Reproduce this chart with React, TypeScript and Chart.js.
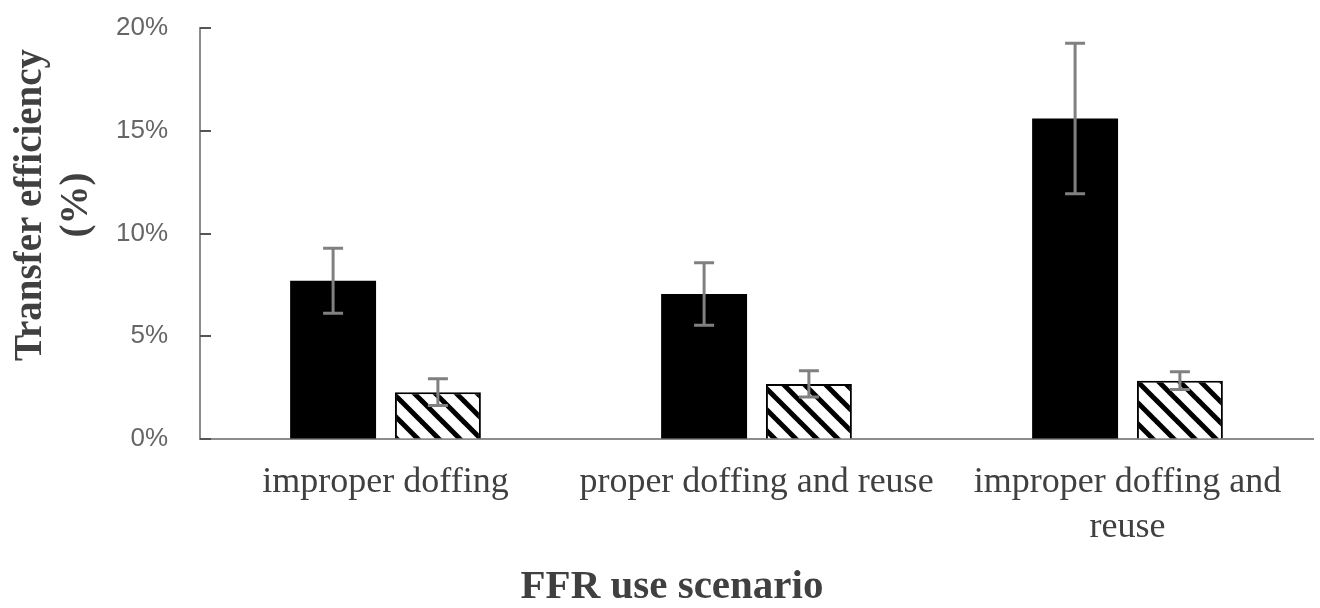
import React, { useEffect, useRef } from 'react';
import { Chart, registerables } from 'chart.js';

Chart.register(...registerables);

const categories: (string | string[])[] = [
  'improper doffing',
  'proper doffing and reuse',
  ['improper doffing and', 'reuse'],
];
const solidValues = [7.7, 7.06, 15.6];
const solidErrors = [1.58, 1.52, 3.66];
const hatchedValues = [2.28, 2.68, 2.84];
const hatchedErrors = [0.65, 0.64, 0.43];
const yTickValues = [0, 5, 10, 15, 20];
const yTitleLines = ['Transfer efficiency', '(%)'];
const xTitle = 'FFR use scenario';

function makeHatch(): CanvasPattern | string {
  const c = document.createElement('canvas');
  c.width = 21;
  c.height = 21;
  const g = c.getContext('2d');
  if (!g) return '#fff';
  g.fillStyle = '#ffffff';
  g.fillRect(0, 0, 21, 21);
  g.strokeStyle = '#000000';
  g.lineWidth = 5;
  for (const off of [-21, 0, 21]) {
    g.beginPath();
    g.moveTo(off - 2, -2);
    g.lineTo(off + 23, 23);
    g.stroke();
  }
  const p = g.createPattern(c, 'repeat');
  return p || '#fff';
}

const errorBarPlugin = {
  id: 'errorBars',
  afterDatasetsDraw(chart: any) {
    const { ctx } = chart;
    const y = chart.scales.y;
    ctx.save();
    ctx.strokeStyle = '#808080';
    ctx.lineWidth = 3;
    chart.data.datasets.forEach((ds: any, i: number) => {
      const meta = chart.getDatasetMeta(i);
      meta.data.forEach((bar: any, j: number) => {
        const v = ds.data[j];
        const e = ds.errors[j];
        const x = bar.x;
        const yTop = y.getPixelForValue(v + e);
        const yBot = y.getPixelForValue(v - e);
        ctx.beginPath();
        ctx.moveTo(x, yTop);
        ctx.lineTo(x, yBot);
        ctx.moveTo(x - 10, yTop);
        ctx.lineTo(x + 10, yTop);
        ctx.moveTo(x - 10, yBot);
        ctx.lineTo(x + 10, yBot);
        ctx.stroke();
      });
    });
    ctx.restore();
  },
};

const decorPlugin = {
  id: 'decor',
  afterDraw(chart: any) {
    const { ctx, chartArea } = chart;
    const y = chart.scales.y;
    ctx.save();
    ctx.strokeStyle = '#555555';
    ctx.lineWidth = 2;
    yTickValues.forEach((v) => {
      const py = Math.round(y.getPixelForValue(v));
      ctx.beginPath();
      ctx.moveTo(chartArea.left, py);
      ctx.lineTo(chartArea.left + 11, py);
      ctx.stroke();
    });
    ctx.fillStyle = '#404040';
    ctx.font = 'bold 39px "Liberation Serif", "Times New Roman", serif';
    ctx.textAlign = 'center';
    ctx.textBaseline = 'middle';
    ctx.save();
    ctx.translate(31, 205);
    ctx.rotate(-Math.PI / 2);
    ctx.fillText(yTitleLines[0], 0, 0);
    ctx.fillText(yTitleLines[1], 0, 46);
    ctx.restore();
    ctx.font = 'bold 41px "Liberation Serif", "Times New Roman", serif';
    ctx.textBaseline = 'alphabetic';
    ctx.fillText(xTitle, 672, 598);
    ctx.restore();
  },
};

export default function App() {
  const ref = useRef<HTMLCanvasElement | null>(null);
  useEffect(() => {
    if (!ref.current) return;
    const hatch = makeHatch();
    const chart = new Chart(ref.current, {
      type: 'bar',
      data: {
        labels: categories as any,
        datasets: [
          {
            label: 'solid',
            data: solidValues,
            errors: solidErrors,
            backgroundColor: '#000000',
            borderColor: '#000000',
            borderWidth: 0,
            categoryPercentage: 0.565,
            barPercentage: 0.82,
          } as any,
          {
            label: 'hatched',
            data: hatchedValues,
            errors: hatchedErrors,
            backgroundColor: hatch,
            borderColor: '#000000',
            borderWidth: 2,
            categoryPercentage: 0.565,
            barPercentage: 0.82,
          } as any,
        ],
      },
      options: {
        responsive: false,
        animation: false,
        devicePixelRatio: 1,
        layout: { padding: { top: 28, right: 7, bottom: 0, left: 0 } },
        plugins: {
          legend: { display: false },
          tooltip: { enabled: false },
          title: { display: false },
        },
        scales: {
          x: {
            grid: { display: true, color: 'rgba(0,0,0,0)', drawTicks: false },
            border: { display: true, color: '#8c8c8c', width: 2 },
            ticks: {
              color: '#404040',
              font: { family: '"Liberation Serif", "Times New Roman", serif', size: 36, lineHeight: 1.25 },
              padding: 21,
              maxRotation: 0,
              autoSkip: false,
            },
            afterFit(scale: any) {
              scale.height = 169;
              scale.paddingLeft = 0;
              scale.paddingRight = 0;
            },
          },
          y: {
            min: 0,
            max: 20,
            grid: { display: true, color: 'rgba(0,0,0,0)', drawTicks: false },
            border: { display: true, color: '#8c8c8c', width: 2 },
            ticks: {
              stepSize: 5,
              color: '#666666',
              font: { family: '"Liberation Sans", Arial, sans-serif', size: 26 },
              padding: 32,
              callback: (v: any) => v + '%',
            },
            afterFit(scale: any) {
              scale.width = 200;
              scale.paddingTop = 0;
              scale.paddingBottom = 0;
            },
          },
        },
      },
      plugins: [errorBarPlugin, decorPlugin],
    });
    return () => chart.destroy();
  }, []);
  return (
    <div style={{ position: 'fixed', left: 0, top: 0, width: 1320, height: 608, background: '#fff' }}>
      <canvas ref={ref} width={1320} height={608} style={{ width: 1320, height: 608, display: 'block' }} />
    </div>
  );
}
